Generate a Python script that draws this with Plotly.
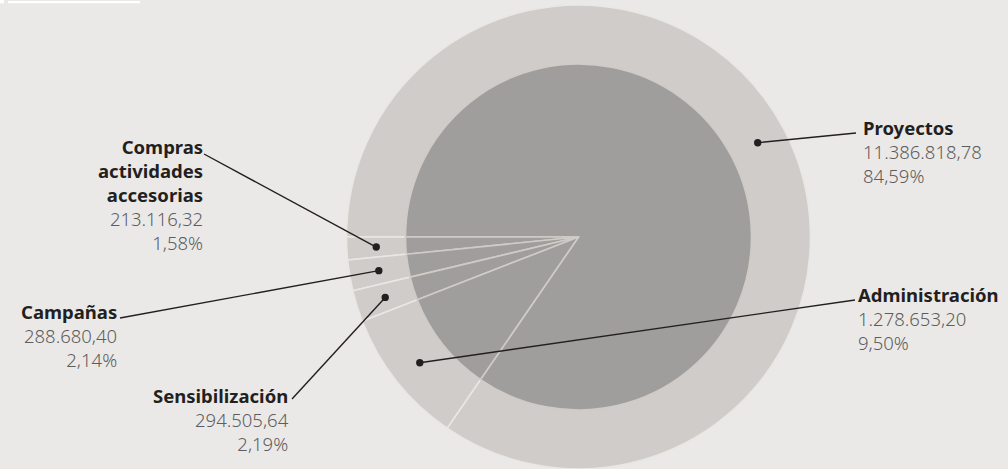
import math
import plotly.graph_objects as go

# ---------------- data ----------------
categories = ["Proyectos", "Compras actividades accesorias", "Campañas",
              "Sensibilización", "Administración"]
label_names = ["Proyectos", "Compras<br>actividades<br>accesorias", "Campañas",
               "Sensibilización", "Administración"]
amounts = [11386818.78, 213116.32, 288680.40, 294505.64, 1278653.20]
amount_labels = ["11.386.818,78", "213.116,32", "288.680,40", "294.505,64", "1.278.653,20"]
percent_labels = ["84,59%", "1,58%", "2,14%", "2,19%", "9,50%"]

# ---------------- layout constants (pixels) ----------------
W, H = 1008, 469
CX, CY = 578.5, 237.0
R_OUT, R_IN = 232.0, 173.0
R_DOT = 202.5

BG = "#ebe9e7"
RING = "#d0ccc9"
CORE = "#a09e9c"
INK = "#231f20"
GREY = "#5d5d5f"


def px(x):
    return x / W


def py(y):
    return 1 - y / H


# label placement: side, anchor x, middle y, leader end (x, y)
label_layout = {
    "Proyectos": dict(side="left", x=861, y=152, end=(856, 133)),
    "Compras actividades accesorias": dict(side="right", x=205, y=194, end=(204, 154)),
    "Campañas": dict(side="right", x=119, y=335, end=(120, 318)),
    "Sensibilización": dict(side="right", x=291, y=419, end=(292, 399)),
    "Administración": dict(side="left", x=856, y=318, end=(855, 300)),
}

fig = go.Figure()

common = dict(labels=categories, values=amounts, sort=False,
              direction="counterclockwise", rotation=270,
              textinfo="none", hoverinfo="label+percent", showlegend=False)

fig.add_trace(go.Pie(
    **common,
    marker=dict(colors=[RING] * len(amounts), line=dict(color="#e9e7e4", width=1.6)),
    domain=dict(x=[px(CX - R_OUT), px(CX + R_OUT)],
                y=[(H - CY - R_OUT) / H, (H - CY + R_OUT) / H]),
))
fig.add_trace(go.Pie(
    **common,
    marker=dict(colors=[CORE] * len(amounts), line=dict(color="#cfcbc7", width=1.6)),
    domain=dict(x=[px(CX - R_IN), px(CX + R_IN)],
                y=[(H - CY - R_IN) / H, (H - CY + R_IN) / H]),
))

# slice mid angles (math convention), traversal ccw from 9 o'clock
total = sum(amounts)
order = [1, 2, 3, 4, 0]
mid_angle = {}
start = 180.0
for i in order:
    span = 360.0 * amounts[i] / total
    mid_angle[i] = start + span / 2
    start += span

shapes = []
annotations = []
dot_r = 3.7
for i, cat in enumerate(categories):
    th = math.radians(mid_angle[i])
    dx = CX + R_DOT * math.cos(th)
    dy = CY - R_DOT * math.sin(th)
    lay = label_layout[cat]
    ex, ey = lay["end"]
    shapes.append(dict(type="line", xref="paper", yref="paper",
                       x0=px(ex), y0=py(ey), x1=px(dx), y1=py(dy),
                       line=dict(color=INK, width=1.4)))
    shapes.append(dict(type="circle", xref="paper", yref="paper",
                       x0=px(dx - dot_r), x1=px(dx + dot_r),
                       y0=py(dy + dot_r), y1=py(dy - dot_r),
                       fillcolor=INK, line=dict(width=0)))
    text = (f"<b><span style='color:{INK}'>{label_names[i]}</span></b><br>"
            f"{amount_labels[i]}<br>{percent_labels[i]}")
    if lay["side"] == "left":
        xa, al = "left", "left"
    else:
        xa, al = "right", "right"
    annotations.append(dict(text=text, xref="paper", yref="paper",
                            x=px(lay["x"]), y=py(lay["y"]),
                            xanchor=xa, yanchor="middle", align=al,
                            showarrow=False,
                            font=dict(family="Noto Sans, Roboto, sans-serif",
                                      size=18.5, color=GREY, weight=300)))

# decorative white bar at the top-left edge
shapes.append(dict(type="rect", xref="paper", yref="paper",
                   x0=px(0), x1=px(4), y0=py(3.3), y1=py(0),
                   fillcolor="white", line=dict(width=0)))
shapes.append(dict(type="rect", xref="paper", yref="paper",
                   x0=px(8), x1=px(140), y0=py(3.3), y1=py(1),
                   fillcolor="white", line=dict(width=0)))

fig.update_layout(
    width=W, height=H,
    margin=dict(l=0, r=0, t=0, b=0),
    paper_bgcolor=BG, plot_bgcolor=BG,
    shapes=shapes, annotations=annotations,
)

fig.write_html(
    "out.html",
    config={"displayModeBar": False},
    post_script="document.body.style.margin='0';document.body.style.overflow='hidden';",
)
